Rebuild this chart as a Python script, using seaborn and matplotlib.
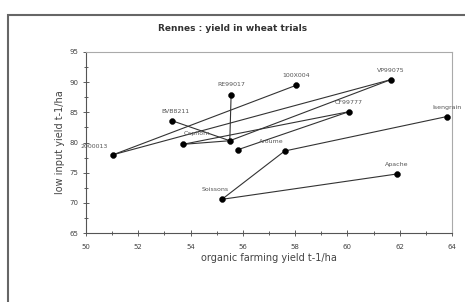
import numpy as np
import pandas as pd
import seaborn as sns
import matplotlib.pyplot as plt
from matplotlib.ticker import MultipleLocator

# varieties: organic yield (x) and low-input yield (y)
varieties = ['2000013', 'BVB8211', 'RE99017', '100X004', 'VP99075', 'CF99777',
             'Isengrain', 'Apache', 'Soissons', 'Aroume', 'Caphorn', 'Orvantis', 'Charger']
organic = [51.05, 53.3, 55.55, 58.05, 61.65, 60.05, 63.8, 61.9, 55.2, 57.6, 53.7, 55.5, 55.8]
low_input = [78.0, 83.6, 87.8, 89.5, 90.4, 85.1, 84.3, 74.8, 70.6, 78.6, 79.7, 80.3, 78.8]
label_shown = [True, True, True, True, True, True, True, True, True, True, True, False, False]

# connected pairs
links = [(0, 4), (0, 3), (11, 4), (1, 11), (2, 11), (10, 5), (12, 5),
         (9, 6), (8, 9), (8, 7), (10, 11)]

df = pd.DataFrame({'variety': varieties, 'organic': organic, 'low_input': low_input})

sns.set_style("white")
plt.rcParams['font.family'] = ['DejaVu Sans']

fig = plt.figure(figsize=(4.65, 3.02), dpi=100)
ax = fig.add_axes([0.185, 0.228, 0.787, 0.60])

for a, b in links:
    ax.plot([organic[a], organic[b]], [low_input[a], low_input[b]],
            color='#333333', lw=0.8, zorder=1)

sns.scatterplot(data=df, x='organic', y='low_input', ax=ax, color='black',
                s=18, marker='o', edgecolor='black', zorder=2, legend=False)

offsets = {
    '2000013': (-14, 4), 'BVB8211': (2, 5), 'RE99017': (0, 6), '100X004': (0, 5),
    'VP99075': (0, 5), 'CF99777': (0, 5), 'Isengrain': (0, 5), 'Apache': (0, 5),
    'Soissons': (-5, 5), 'Aroume': (-10, 5), 'Caphorn': (10, 6),
}
for name, x, y, show in zip(varieties, organic, low_input, label_shown):
    if not show:
        continue
    dx, dy = offsets.get(name, (0, 5))
    ax.annotate(name, (x, y), xytext=(dx, dy), textcoords='offset points',
                ha='center', va='bottom', fontsize=4.5, color='#555555')

ax.set_xlim(50, 64)
ax.set_ylim(65, 95)
ax.xaxis.set_major_locator(MultipleLocator(2))
ax.xaxis.set_minor_locator(MultipleLocator(1))
ax.yaxis.set_major_locator(MultipleLocator(5))
ax.yaxis.set_minor_locator(MultipleLocator(2.5))
ax.tick_params(which='both', direction='inout', length=4, width=0.6,
               labelsize=5, colors='#444444', left=True, bottom=True)
ax.tick_params(which='minor', length=3)
ax.tick_params(axis='x', pad=6)

for side in ['left', 'bottom']:
    ax.spines[side].set_color('#555555')
    ax.spines[side].set_linewidth(0.8)
for side in ['top', 'right']:
    ax.spines[side].set_color('#aaaaaa')
    ax.spines[side].set_linewidth(0.8)

ax.set_xlabel('organic farming yield t-1/ha', fontsize=7, color='#444444', labelpad=2)
ax.set_ylabel('low input yield t-1/ha', fontsize=7, color='#444444', labelpad=3)
fig.text(0.50, 0.905, 'Rennes : yield in wheat trials', ha='center', va='center',
         fontsize=6.5, fontweight='bold', color='#333333')

# outer frame of the chart
frame = plt.Rectangle((0.018, -0.05), 1.1, 1.0, transform=fig.transFigure,
                      fill=False, edgecolor='#666666', lw=1.5)
fig.patches.append(frame)

fig.savefig('out.png', dpi=100)
